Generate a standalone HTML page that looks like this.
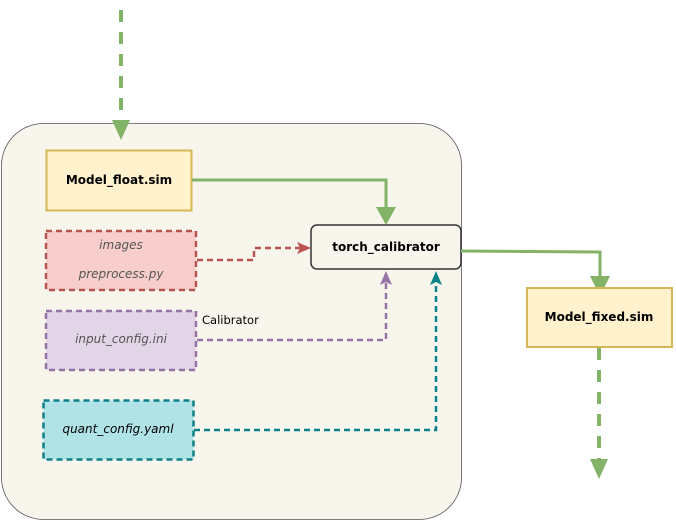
<!DOCTYPE html>
<html><head><meta charset="utf-8"><style>
html,body{margin:0;padding:0;background:#fff;width:676px;height:523px;overflow:hidden}
text{font-family:"DejaVu Sans","Liberation Sans",sans-serif}
</style></head><body>
<svg width="676" height="523" viewBox="0 0 676 523" xmlns="http://www.w3.org/2000/svg">
<rect x="1.5" y="123.5" width="460" height="396" rx="42" fill="#f8f5ec" stroke="#555" stroke-width="0.8"/>
<line x1="121" y1="10" x2="121" y2="122" stroke="#82b366" stroke-width="4" stroke-dasharray="12,10"/>
<polygon points="112,120 130,120 121,140" fill="#82b366"/>
<rect x="46.5" y="150.5" width="145" height="60" fill="#fff2cc" stroke="#d6b656" stroke-width="2"/>
<text x="119" y="184" font-size="12" font-weight="bold" text-anchor="middle">Model_float.sim</text>
<polyline points="192,180 386,180 386,215" fill="none" stroke="#82b366" stroke-width="3"/>
<polygon points="376,207 396,207 386,225" fill="#82b366"/>
<rect x="311" y="225" width="150" height="44" rx="6" fill="#f8f5ec" stroke="#333" stroke-width="1.5"/>
<text x="386" y="251" font-size="12" font-weight="bold" text-anchor="middle">torch_calibrator</text>
<rect x="46" y="231" width="150" height="59" fill="#f8cecc" stroke="#b85450" stroke-width="2.5" stroke-dasharray="6,4"/>
<text x="121" y="249" font-size="12" font-style="italic" fill="#555" text-anchor="middle">images</text>
<text x="121" y="278" font-size="12" font-style="italic" fill="#555" text-anchor="middle">preprocess.py</text>
<polyline points="197,260 254,260 254,248 300,248" fill="none" stroke="#b85450" stroke-width="2.5" stroke-dasharray="6,4"/>
<polygon points="297,242 311,248 297,254 300,248" fill="#b85450"/>
<rect x="46" y="311" width="150" height="59" fill="#e1d5e7" stroke="#9673a6" stroke-width="2.5" stroke-dasharray="6,4"/>
<text x="121" y="343" font-size="12" font-style="italic" fill="#555" text-anchor="middle">input_config.ini</text>
<text x="202" y="324" font-size="11.5">Calibrator</text>
<polyline points="197,340 386,340 386,283" fill="none" stroke="#9673a6" stroke-width="2.5" stroke-dasharray="6,4"/>
<polygon points="380,285 386,271 392,285 386,282" fill="#9673a6"/>
<rect x="43.5" y="400.5" width="150" height="59" fill="#b0e3e6" stroke="#0e8088" stroke-width="2.5" stroke-dasharray="6,4"/>
<text x="118" y="433" font-size="12" font-style="italic" text-anchor="middle">quant_config.yaml</text>
<polyline points="194,430 436,430 436,283" fill="none" stroke="#0e8088" stroke-width="2.5" stroke-dasharray="6,4"/>
<polygon points="430,285 436,271 442,285 436,282" fill="#0e8088"/>
<polyline points="461,251 600,252 600,285" fill="none" stroke="#82b366" stroke-width="3"/>
<polygon points="590,276 610,276 600,296" fill="#82b366"/>
<rect x="527" y="288" width="145" height="59" fill="#fff2cc" stroke="#d6b656" stroke-width="2"/>
<text x="599" y="321" font-size="12" font-weight="bold" text-anchor="middle">Model_fixed.sim</text>
<line x1="599" y1="348" x2="599" y2="462" stroke="#82b366" stroke-width="4" stroke-dasharray="12,10"/>
<polygon points="590,459 608,459 599,479" fill="#82b366"/>
</svg>
</body></html>
